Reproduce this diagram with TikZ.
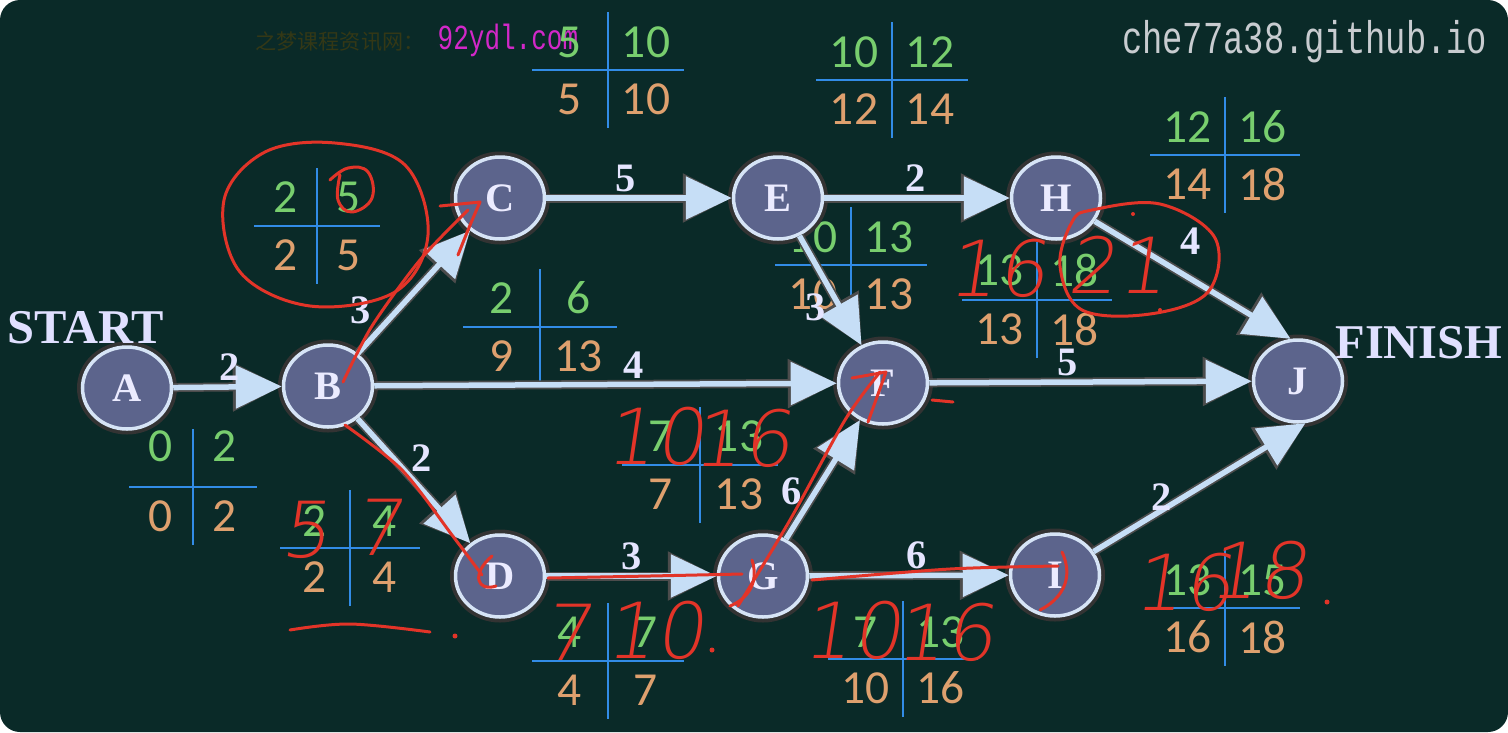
\documentclass[tikz,border=0pt]{standalone}
\usepackage{fontspec}
\setmainfont{Liberation Serif}
\newfontfamily\numfont{Carlito}
\newfontfamily\markfont[FakeStretch=0.74]{Liberation Mono}
\newfontfamily\cjkfont{Noto Sans CJK SC}
\newfontfamily\handfont[FakeSlant=0.15,LetterSpace=2]{DejaVu Sans ExtraLight}
\usetikzlibrary{arrows.meta,shapes.geometric}

\definecolor{board}{RGB}{10,42,40}
\definecolor{nodefill}{RGB}{92,100,140}
\definecolor{nodeline}{RGB}{214,228,246}
\definecolor{flowc}{RGB}{198,222,246}
\definecolor{esgreen}{RGB}{120,206,110}
\definecolor{lsorange}{RGB}{222,160,110}
\definecolor{crossblue}{RGB}{50,140,230}
\definecolor{chalkred}{RGB}{226,52,40}
\definecolor{wmgray}{RGB}{200,204,208}
\definecolor{wmpink}{RGB}{210,40,200}
\definecolor{wmbrown}{RGB}{52,56,22}

\tikzset{
  event/.style={ellipse, draw=nodeline, line width=0.35mm, fill=nodefill,
    minimum width=8.9mm, minimum height=8.2mm, inner sep=0pt,
    font=\fontsize{11.5}{12}\selectfont\bfseries, text=white!92!blue,
    preaction={draw=black!80, line width=1.1mm}},
  flow/.style={draw=flowc, line width=0.55mm, -{Triangle[length=4.6mm,width=4.2mm]},
    preaction={draw=black!70, line width=0.9mm, -{Triangle[length=4.9mm,width=4.7mm]}}},
  elabel/.style={font=\fontsize{11.5}{12}\selectfont\bfseries, text=white!90!blue, inner sep=1pt},
  crossline/.style={draw=crossblue, line width=0.28mm},
  estext/.style={text=esgreen, font=\numfont\fontsize{13.5}{14}\selectfont, inner sep=0pt},
  lstext/.style={text=lsorange, font=\numfont\fontsize{13.5}{14}\selectfont, inner sep=0pt},
  chalk/.style={draw=chalkred, line width=0.3mm, line cap=round, line join=round},
  hand/.style={text=chalkred, font=\handfont\fontsize{22}{22}\selectfont, inner sep=0pt},
  endlabel/.style={font=\fontsize{13.8}{14}\selectfont\bfseries, text=white!88!blue}
}

\begin{document}
\begin{tikzpicture}[x=0.1mm,y=-0.1mm]
\useasboundingbox (0,0) rectangle (1508,732);
\fill[board, rounded corners=2mm] (0,0) rectangle (1508,732);

% watermarks
\node[anchor=east, inner sep=0pt, text=wmgray, font=\markfont\fontsize{13}{14}\selectfont] (site) at (1488,42) {che77a38.github.io};
\node[anchor=west, inner sep=0pt, text=wmpink, font=\markfont\fontsize{10}{11}\selectfont] (ydl) at (437,40) {92ydl.com};
\node[anchor=east, inner sep=0pt, text=wmbrown, font=\cjkfont\fontsize{6}{7}\selectfont] (ydlcn) at (425,42) {之梦课程资讯网：};

% time tables: centre x, centre y, half width, top offset, ES, EF, LS, LF
\foreach \cx/\cy/\hw/\up/\es/\ef/\ls/\lf in {
  193/487/64/41/0/2/0/2, 317/226/63/29/2/5/2/5, 350/548/70/27/2/4/2/4,
  540/327/77/29/2/6/9/13, 608/70/76/28/5/10/5/10, 892/80/76/28/10/12/12/14,
  851/265/76/28/10/13/10/13, 1225/155/75/28/12/16/14/18, 1037/300/75/30/13/18/13/18,
  700/465/78/29/7/13/7/13, 608/661/76/29/4/7/4/7, 903/659/75/27/7/13/10/16,
  1225/608/75/28/13/15/16/18}{
  \draw[crossline] (\cx-\hw,\cy) -- (\cx+\hw,\cy);
  \draw[crossline] (\cx,\cy-58) -- (\cx,\cy+58);
  \node[estext] at (\cx-\hw/2,\cy-\up) {\es};
  \node[estext] at (\cx+\hw/2,\cy-\up) {\ef};
  \node[lstext] at (\cx-\hw/2,\cy+29) {\ls};
  \node[lstext] at (\cx+\hw/2,\cy+29) {\lf};
}

% events
\node[event] (A) at (127,388) {A};
\node[event] (B) at (328,386) {B};
\node[event] (C) at (500,198) {C};
\node[event] (D) at (500,576) {D};
\node[event] (E) at (778,198) {E};
\node[event] (F) at (883,383) {F};
\node[event] (G) at (763,576) {G};
\node[event] (H) at (1056,198) {H};
\node[event] (I) at (1055,575) {I};
\node[event] (J) at (1298,381) {J};
\node[endlabel] (start) at (86,328) {START};
\node[endlabel] (finish) at (1419,343) {FINISH};

% activities
\draw[flow] (A) -- node[elabel, above, pos=0.52] {2} (B);
\draw[flow] (B) -- node[elabel, left=2mm, pos=0.35] {3} (C);
\draw[flow] (B) -- node[elabel, above, pos=0.56] {4} (F);
\draw[flow] (B) -- node[elabel, right=1.2mm, pos=0.32] {2} (D);
\draw[flow] (C) -- node[elabel, above, pos=0.43] {5} (E);
\draw[flow] (E) -- node[elabel, above, pos=0.49] {2} (H);
\draw[flow] (E) -- node[elabel, left=0.8mm, pos=0.65] {3} (F);
\draw[flow] (D) -- node[elabel, above, pos=0.5] {3} (G);
\draw[flow] (G) -- node[elabel, left=0.8mm, pos=0.4] {6} (F);
\draw[flow] (G) -- node[elabel, above, pos=0.54] {6} (I);
\draw[flow] (F) -- node[elabel, above, pos=0.43] {5} (J);
\draw[flow] (H) -- node[elabel, above right=0.5mm, pos=0.38] {4} (J.100);
\draw[flow] (I) -- node[elabel, pos=0.35, xshift=-0.6mm, yshift=1mm] {2} (J.-80);

% red chalk marks
\draw[chalk] plot[smooth cycle, tension=0.6] coordinates {(335,143) (405,165) (428,235) (395,292) (310,306) (240,272) (224,200) (265,152)};
\draw[chalk] plot[smooth, tension=0.7] coordinates {(340,175) (338,200) (352,212) (372,198) (368,172) (348,168) (330,180)};
\draw[chalk] plot[smooth, tension=0.5] coordinates {(343,382) (372,326) (420,260) (468,210)};
\draw[chalk] (440,206) -- (480,202) .. controls (470,225) .. (458,255);
\draw[chalk] plot[smooth, tension=0.5] coordinates {(345,425) (402,470) (452,535) (482,575)};
\draw[chalk] (492,556) .. controls (470,575) and (478,592) .. (496,586);
\draw[chalk] plot[smooth, tension=0.5] coordinates {(548,578) (650,576) (742,574)};
\draw[chalk] (752,560) .. controls (760,585) and (745,600) .. (730,606);
\draw[chalk] plot[smooth, tension=0.5] coordinates {(738,606) (790,520) (845,420) (880,372)};
\draw[chalk] (852,378) -- (886,372) -- (868,422);
\draw[chalk] (932,400) -- (953,402);
\draw[chalk] plot[smooth, tension=0.5] coordinates {(812,580) (950,569) (1058,566)};
\draw[chalk] (1062,552) .. controls (1075,580) and (1060,600) .. (1040,610);
\draw[chalk] plot[smooth, tension=0.6] coordinates {(290,630) (350,624) (430,632)};
\draw[chalk] plot[smooth cycle, tension=0.6] coordinates {(1092,210) (1160,204) (1215,238) (1208,292) (1150,314) (1082,310) (1060,266) (1072,222)};
\fill[chalkred] (455,636) circle (2.5) (712,650) circle (2.5) (1327,602) circle (2.5) (1160,310) circle (2) (1133,214) circle (2);

\node[hand] (d5) at (305,530) {5};
\node[hand] (d7) at (378,527) {7};
\node[hand] (g7) at (567,632) {7};
\node[hand] (g10) at (655,630) {10};
\node[hand] (f10) at (655,436) {10};
\node[hand] (f16) at (742,438) {16};
\node[hand] (i10) at (852,630) {10};
\node[hand] (i16) at (945,632) {16};
\node[hand] (h16) at (997,268) {16};
\node[hand] (h21) at (1117,265) {21};
\node[hand] (j16) at (1183,582) {16};
\node[hand] (j18) at (1258,570) {18};
\end{tikzpicture}
\end{document}
